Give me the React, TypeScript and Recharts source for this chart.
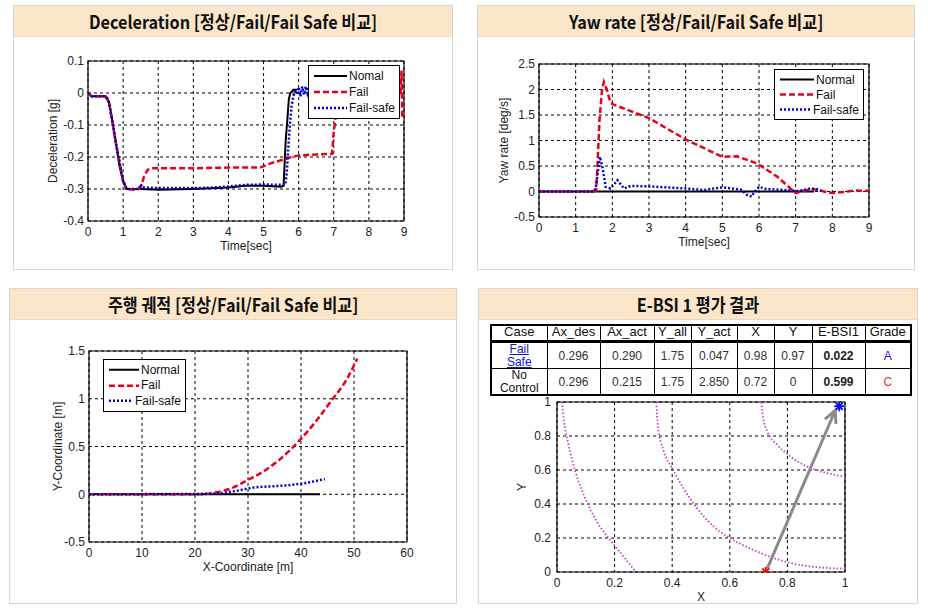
import React from 'react';
import { LineChart, Line, XAxis, YAxis, CartesianGrid, ReferenceArea, Legend } from 'recharts';

// ---- Deceleration [g] vs time [sec]
const decelNormal = [
  { x: 0, y: 0 }, { x: 0.1, y: -0.01 }, { x: 0.3, y: -0.01 }, { x: 0.5, y: -0.01 }, { x: 0.55, y: -0.015 },
  { x: 0.6, y: -0.03 }, { x: 0.7, y: -0.09 }, { x: 0.8, y: -0.16 }, { x: 0.9, y: -0.23 }, { x: 1.0, y: -0.275 },
  { x: 1.1, y: -0.3 }, { x: 1.5, y: -0.3 }, { x: 2, y: -0.302 }, { x: 3, y: -0.3 }, { x: 3.5, y: -0.298 },
  { x: 4, y: -0.295 }, { x: 4.5, y: -0.29 }, { x: 5, y: -0.29 }, { x: 5.5, y: -0.293 }, { x: 5.57, y: -0.29 },
  { x: 5.6, y: -0.22 }, { x: 5.63, y: -0.15 }, { x: 5.68, y: -0.08 }, { x: 5.72, y: -0.02 }, { x: 5.76, y: 0 },
  { x: 5.85, y: 0.01 }, { x: 5.95, y: 0.01 },
];
const decelFail = [
  { x: 0, y: 0 }, { x: 0.1, y: -0.01 }, { x: 0.5, y: -0.01 }, { x: 0.6, y: -0.03 }, { x: 0.8, y: -0.16 },
  { x: 1.0, y: -0.275 }, { x: 1.1, y: -0.3 }, { x: 1.4, y: -0.302 }, { x: 1.5, y: -0.295 }, { x: 1.6, y: -0.26 },
  { x: 1.7, y: -0.24 }, { x: 1.8, y: -0.235 }, { x: 2.5, y: -0.235 }, { x: 3, y: -0.235 }, { x: 4, y: -0.233 },
  { x: 4.9, y: -0.233 }, { x: 5.2, y: -0.22 }, { x: 5.5, y: -0.21 }, { x: 5.8, y: -0.2 }, { x: 6, y: -0.195 },
  { x: 6.5, y: -0.192 }, { x: 6.95, y: -0.19 }, { x: 7.0, y: -0.12 }, { x: 7.05, y: -0.08 }, { x: 7.2, y: -0.03 },
  { x: 7.5, y: 0 }, { x: 8.9, y: 0 }, { x: 8.93, y: 0.07 }, { x: 8.95, y: -0.075 },
];
const decelFailSafe = [
  { x: 0, y: 0 }, { x: 0.1, y: -0.01 }, { x: 0.5, y: -0.01 }, { x: 0.6, y: -0.03 }, { x: 0.8, y: -0.16 },
  { x: 1.0, y: -0.275 }, { x: 1.1, y: -0.3 }, { x: 1.45, y: -0.3 }, { x: 1.5, y: -0.285 }, { x: 1.55, y: -0.295 },
  { x: 2, y: -0.297 }, { x: 3, y: -0.297 }, { x: 3.5, y: -0.296 }, { x: 4, y: -0.292 }, { x: 4.5, y: -0.287 },
  { x: 5, y: -0.286 }, { x: 5.62, y: -0.287 }, { x: 5.66, y: -0.25 }, { x: 5.7, y: -0.18 }, { x: 5.75, y: -0.1 },
  { x: 5.8, y: -0.04 }, { x: 5.85, y: -0.01 }, { x: 5.9, y: 0.01 }, { x: 5.95, y: -0.005 }, { x: 6.0, y: 0.018 },
  { x: 6.05, y: -0.01 }, { x: 6.1, y: 0.02 }, { x: 6.15, y: -0.005 }, { x: 6.2, y: 0.02 }, { x: 6.25, y: 0 },
  { x: 6.3, y: 0.02 },
];
const decelTicksX = [0, 1, 2, 3, 4, 5, 6, 7, 8, 9];
const decelTicksY = [-0.4, -0.3, -0.2, -0.1, 0, 0.1];

// ---- Yaw rate [deg/s] vs time [sec]
const yawNormal = [{ x: 0, y: 0 }, { x: 7.5, y: 0 }];
const yawFail = [
  { x: 0, y: 0 }, { x: 1.5, y: 0 }, { x: 1.56, y: 0.02 }, { x: 1.6, y: 0.6 }, { x: 1.65, y: 1.4 },
  { x: 1.72, y: 2.0 }, { x: 1.77, y: 2.15 }, { x: 1.85, y: 2.0 }, { x: 1.95, y: 1.74 }, { x: 2.05, y: 1.7 },
  { x: 3, y: 1.44 }, { x: 4, y: 1.02 }, { x: 5, y: 0.68 }, { x: 5.4, y: 0.69 }, { x: 5.95, y: 0.55 },
  { x: 6.5, y: 0.29 }, { x: 7.0, y: -0.03 }, { x: 7.2, y: 0.01 }, { x: 7.4, y: 0.04 }, { x: 7.6, y: 0.04 },
  { x: 7.77, y: 0 }, { x: 8.0, y: -0.03 }, { x: 8.3, y: -0.01 }, { x: 8.6, y: 0.02 }, { x: 9, y: 0.01 },
];
const yawFailSafe = [
  { x: 0, y: 0 }, { x: 1.5, y: 0 }, { x: 1.55, y: 0.09 }, { x: 1.66, y: 0.68 }, { x: 1.73, y: 0.48 },
  { x: 1.82, y: 0.09 }, { x: 1.95, y: 0.06 }, { x: 2.14, y: 0.22 }, { x: 2.32, y: 0.06 }, { x: 2.5, y: 0.11 },
  { x: 3, y: 0.1 }, { x: 4, y: 0.06 }, { x: 4.5, y: 0.03 }, { x: 5, y: 0.08 }, { x: 5.5, y: 0.04 },
  { x: 5.68, y: -0.07 }, { x: 5.8, y: -0.1 }, { x: 5.86, y: -0.02 }, { x: 6, y: 0.09 }, { x: 6.2, y: 0.05 },
  { x: 6.7, y: 0.03 }, { x: 7.05, y: 0.01 }, { x: 7.23, y: 0.03 }, { x: 7.4, y: 0.06 }, { x: 7.55, y: 0.05 },
  { x: 7.7, y: 0.01 },
];
const yawTicksX = [0, 1, 2, 3, 4, 5, 6, 7, 8, 9];
const yawTicksY = [-0.5, 0, 0.5, 1, 1.5, 2, 2.5];

// ---- Driving trajectory, Y [m] vs X [m]
const trackNormal = [{ x: 0, y: 0 }, { x: 43.6, y: 0 }];
const trackFail = [
  { x: 0, y: 0 }, { x: 20.9, y: 0 }, { x: 24, y: 0.02 }, { x: 27.2, y: 0.07 }, { x: 30, y: 0.15 },
  { x: 33.5, y: 0.26 }, { x: 37.9, y: 0.46 }, { x: 40, y: 0.58 }, { x: 42.9, y: 0.77 }, { x: 46, y: 1.0 },
  { x: 48.6, y: 1.2 }, { x: 50.6, y: 1.42 },
];
const trackFailSafe = [
  { x: 0, y: 0 }, { x: 23.4, y: 0.005 }, { x: 27.2, y: 0.03 }, { x: 30, y: 0.06 }, { x: 31, y: 0.07 },
  { x: 36.6, y: 0.09 }, { x: 40, y: 0.11 }, { x: 44.5, y: 0.16 },
];
const trackTicksX = [0, 10, 20, 30, 40, 50, 60];
const trackTicksY = [-0.5, 0, 0.5, 1, 1.5];

// ---- E-BSI 1 evaluation
const bsiHeader = ['Case', 'Ax_des', 'Ax_act', 'Y_all', 'Y_act', 'X', 'Y', 'E-BSI1', 'Grade'];
const bsiCases = [['Fail', 'Safe'], ['No', 'Control']];
const bsiValues = [
  ['0.296', '0.290', '1.75', '0.047', '0.98', '0.97'],
  ['0.296', '0.215', '1.75', '2.850', '0.72', '0'],
];
const bsiScores = ['0.022', '0.599'];
const bsiGrades = ['A', 'C'];
const bsiCurve1 = [
  { x: 0.017, y: 1 }, { x: 0.023, y: 0.905 }, { x: 0.04, y: 0.75 }, { x: 0.064, y: 0.59 }, { x: 0.098, y: 0.433 },
  { x: 0.139, y: 0.295 }, { x: 0.185, y: 0.187 }, { x: 0.232, y: 0.089 }, { x: 0.272, y: 0.004 },
];
const bsiCurve2 = [
  { x: 0.345, y: 1 }, { x: 0.35, y: 0.866 }, { x: 0.371, y: 0.709 }, { x: 0.4, y: 0.61 }, { x: 0.44, y: 0.49 },
  { x: 0.487, y: 0.374 }, { x: 0.545, y: 0.266 }, { x: 0.603, y: 0.197 }, { x: 0.684, y: 0.128 },
  { x: 0.776, y: 0.069 }, { x: 0.892, y: 0.03 }, { x: 1, y: 0.02 },
];
const bsiCurve3 = [
  { x: 0.709, y: 1 }, { x: 0.716, y: 0.906 }, { x: 0.73, y: 0.827 }, { x: 0.765, y: 0.748 }, { x: 0.811, y: 0.679 },
  { x: 0.869, y: 0.62 }, { x: 0.939, y: 0.581 }, { x: 1, y: 0.561 },
];
const bsiNoControl = [{ x: 0.725, y: 0 }];
const bsiFailSafe = [{ x: 0.98, y: 0.975 }];
const bsiArrow = [{ x: 0.73, y: 0.02 }, { x: 0.966, y: 0.95 }];
const bsiTicks = [0, 0.2, 0.4, 0.6, 0.8, 1];

const FONT = '"Liberation Sans", Arial, sans-serif';
const NARROW = '"Liberation Sans Narrow", "Liberation Sans", sans-serif';
const TICK = { fontSize: 12, fill: '#222', fontFamily: FONT };

const STYLES = {
  normal: { stroke: '#000000', strokeWidth: 2, dash: undefined as string | undefined },
  fail: { stroke: '#e8001a', strokeWidth: 2.5, dash: '6 3' },
  safe: { stroke: '#0000c8', strokeWidth: 2.5, dash: '2 2' },
};

const LegendBox = ({ labels, row, sample }: { labels: string[]; row: number; sample: number }) => {
  const keys = ['normal', 'fail', 'safe'] as const;
  return (
    <div style={{ background: '#fff', border: '1px solid #000', padding: '2px 4px 2px 5px', fontFamily: FONT, fontSize: 12, color: '#111' }}>
      {labels.map((l, i) => {
        const s = STYLES[keys[i]];
        return (
          <div key={l} style={{ display: 'flex', alignItems: 'center', height: row }}>
            <svg width={sample} height={row} style={{ display: 'block' }}>
              <line x1={0} x2={sample} y1={row / 2} y2={row / 2} stroke={s.stroke} strokeWidth={s.strokeWidth} strokeDasharray={s.dash} />
            </svg>
            <span style={{ marginLeft: 2, whiteSpace: 'nowrap' }}>{l}</span>
          </div>
        );
      })}
    </div>
  );
};

const Panel = ({ left, top, width, height, title }: { left: number; top: number; width: number; height: number; title: string }) => (
  <div style={{ position: 'absolute', left, top, width, height, border: '1px solid #d6d6d6', boxSizing: 'border-box', background: '#fff' }}>
    <div style={{ height: 30, background: '#fbe6ca', borderBottom: '1px solid #e9dac6', display: 'flex', alignItems: 'center', justifyContent: 'center' }}>
      <span style={{ display: 'inline-block', fontFamily: '"Noto Sans CJK KR", sans-serif', fontWeight: 700, fontSize: 18, color: '#111', transform: 'scaleX(0.9)', whiteSpace: 'nowrap' }}>
        {title}
      </span>
    </div>
  </div>
);

type Pt = { x: number; y: number };

interface SeriesChartProps {
  left: number; top: number; width: number; height: number;
  margin: { top: number; right: number; bottom: number; left: number };
  yWidth: number;
  xDomain: [number, number]; yDomain: [number, number];
  xTicks: number[]; yTicks: number[];
  xLabel: string; yLabel: string;
  normal: Pt[]; fail: Pt[]; safe: Pt[];
  curve: 'linear' | 'monotone';
  legend: string[]; legendPos: { left: number; top: number; width: number }; row: number; sample: number;
}

const SeriesChart = (p: SeriesChartProps) => {
  const series: [Pt[], keyof typeof STYLES][] = [[p.normal, 'normal'], [p.fail, 'fail'], [p.safe, 'safe']];
  return (
    <div style={{ position: 'absolute', left: p.left, top: p.top }}>
      <LineChart width={p.width} height={p.height} margin={p.margin}>
        <CartesianGrid stroke="#000" strokeDasharray="3 3" />
        <XAxis type="number" dataKey="x" domain={p.xDomain} ticks={p.xTicks} interval={0} allowDataOverflow
          axisLine={false} tickLine={false} tickSize={4} tickMargin={2} tick={TICK} height={30}
          label={{ value: p.xLabel, position: 'insideBottom', offset: 1, style: { fontSize: 12, fontFamily: FONT, fill: '#222' } }} />
        <YAxis type="number" dataKey="y" domain={p.yDomain} ticks={p.yTicks} interval={0} allowDataOverflow
          axisLine={false} tickLine={false} tickSize={3} tickMargin={1} tick={TICK} width={p.yWidth}
          label={{ value: p.yLabel, angle: -90, position: 'insideLeft', offset: 0, style: { textAnchor: 'middle', fontSize: 12, fontFamily: FONT, fill: '#222' } }} />
        <ReferenceArea x1={p.xDomain[0]} x2={p.xDomain[1]} y1={p.yDomain[0]} y2={p.yDomain[1]} fill="none" stroke="#000" strokeWidth={1.2} />
        {series.map(([d, k]) => (
          <Line key={k} data={d} dataKey="y" type={p.curve} dot={false} isAnimationActive={false}
            stroke={STYLES[k].stroke} strokeWidth={STYLES[k].strokeWidth} strokeDasharray={STYLES[k].dash} />
        ))}
        <Legend verticalAlign="middle" align="center" layout="vertical"
          wrapperStyle={{ left: p.legendPos.left, top: p.legendPos.top, width: p.legendPos.width, height: 'auto' }}
          content={() => <LegendBox labels={p.legend} row={p.row} sample={p.sample} />} />
      </LineChart>
    </div>
  );
};

const Asterisk = (color: string) => (props: any) => {
  const { cx, cy, index } = props;
  if (cx == null || cy == null) return <g key={index} />;
  const r = 5;
  return (
    <g key={index} stroke={color} strokeWidth={1.8}>
      {[0, 45, 90, 135].map((a) => {
        const dx = r * Math.cos((a * Math.PI) / 180);
        const dy = r * Math.sin((a * Math.PI) / 180);
        return <line key={a} x1={cx - dx} y1={cy - dy} x2={cx + dx} y2={cy + dy} />;
      })}
    </g>
  );
};

const ArrowHead = (props: any) => {
  const { cx, cy, index, points } = props;
  if (index !== bsiArrow.length - 1 || cx == null) return <g key={index} />;
  const prev = points && points[index - 1];
  const ang = prev ? Math.atan2(cy - prev.y, cx - prev.x) : Math.atan2(-158, 68);
  const L = 12, w = 6;
  const bx = cx - L * Math.cos(ang), by = cy - L * Math.sin(ang);
  const px = -Math.sin(ang) * w, py = Math.cos(ang) * w;
  return (
    <polyline key={index} points={`${bx + px},${by + py} ${cx},${cy} ${bx - px},${by - py}`}
      fill="none" stroke="#8a8a8a" strokeWidth={3} strokeLinejoin="miter" />
  );
};

const colW = [56, 53, 54, 37, 46, 37, 38, 53, 46];

const BsiTable = () => {
  const head: React.CSSProperties = { fontFamily: NARROW, fontSize: 13, lineHeight: '12px', height: 14, padding: 0, textAlign: 'center', borderRight: '1px solid #000', borderBottom: '3px solid #000', color: '#111', fontWeight: 400, verticalAlign: 'top' };
  const cell: React.CSSProperties = { fontFamily: FONT, fontSize: 12, padding: 0, textAlign: 'center', borderRight: '1px solid #000', borderBottom: '1px solid #000', color: '#333', height: 24 };
  return (
    <table style={{ position: 'absolute', left: 490, top: 324, width: 420, borderCollapse: 'collapse', tableLayout: 'fixed', border: '2px solid #000' }}>
      <colgroup>{colW.map((w, i) => <col key={i} style={{ width: w }} />)}</colgroup>
      <thead>
        <tr>{bsiHeader.map((h) => <th key={h} style={head}>{h}</th>)}</tr>
      </thead>
      <tbody>
        {bsiCases.map((c, r) => (
          <tr key={r}>
            <td style={{ ...cell, fontFamily: NARROW, fontSize: 12, lineHeight: '12.5px', color: r === 0 ? '#1010e0' : '#111', textDecoration: r === 0 ? 'underline' : 'none' }}>
              {c[0]}<br />{c[1]}
            </td>
            {bsiValues[r].map((v, i) => <td key={i} style={cell}>{v}</td>)}
            <td style={{ ...cell, fontWeight: 700, color: '#222' }}>{bsiScores[r]}</td>
            <td style={{ ...cell, color: r === 0 ? '#2020e0' : '#e03030' }}>{bsiGrades[r]}</td>
          </tr>
        ))}
      </tbody>
    </table>
  );
};

const BsiChart = () => (
  <div style={{ position: 'absolute', left: 478, top: 392 }}>
    <LineChart width={440} height={211} margin={{ top: 10, right: 73, bottom: 1, left: 44 }}>
      <CartesianGrid stroke="#000" strokeDasharray="3 3" />
      <XAxis type="number" dataKey="x" domain={[0, 1]} ticks={bsiTicks} interval={0} allowDataOverflow
        axisLine={false} tickLine={false} tickSize={4} tickMargin={2} tick={TICK} height={30}
        label={{ value: 'X', position: 'insideBottom', offset: 1, style: { fontSize: 12, fontFamily: FONT, fill: '#222' } }} />
      <YAxis type="number" dataKey="y" domain={[0, 1]} ticks={bsiTicks} interval={0} allowDataOverflow
        axisLine={false} tickLine={false} tickSize={3} tickMargin={3} tick={TICK} width={35}
        label={{ value: 'Y', angle: -90, position: 'insideLeft', offset: 0, style: { textAnchor: 'middle', fontSize: 12, fontFamily: FONT, fill: '#222' } }} />
      <ReferenceArea x1={0} x2={1} y1={0} y2={1} fill="none" stroke="#000" strokeWidth={1.2} />
      {[bsiCurve1, bsiCurve2, bsiCurve3].map((d, i) => (
        <Line key={i} data={d} dataKey="y" type="monotone" dot={false} isAnimationActive={false}
          stroke="#c43fc4" strokeWidth={1.8} strokeDasharray="1.5 2" />
      ))}
      <Line data={bsiArrow} dataKey="y" type="linear" isAnimationActive={false} stroke="#8a8a8a" strokeWidth={3} dot={ArrowHead} />
      <Line data={bsiNoControl} dataKey="y" isAnimationActive={false} stroke="none" dot={Asterisk('#ff0000')} />
      <Line data={bsiFailSafe} dataKey="y" isAnimationActive={false} stroke="none" dot={Asterisk('#0000ff')} />
    </LineChart>
  </div>
);

export default function App() {
  return (
    <div style={{ position: 'absolute', left: 0, top: 0, width: 928, height: 611, background: '#fff', overflow: 'hidden' }}>
      <Panel left={13} top={5} width={440} height={265} title="Deceleration [정상/Fail/Fail Safe 비교]" />
      <Panel left={477} top={5} width={438} height={265} title="Yaw rate [정상/Fail/Fail Safe 비교]" />
      <Panel left={9} top={288} width={448} height={316} title="주행 궤적 [정상/Fail/Fail Safe 비교]" />
      <Panel left={478} top={288} width={440} height={316} title="E-BSI 1 평가 결과" />

      <SeriesChart left={13} top={36} width={440} height={233} margin={{ top: 25, right: 49, bottom: 18, left: 40 }} yWidth={35}
        xDomain={[0, 9]} yDomain={[-0.4, 0.1]} xTicks={decelTicksX} yTicks={decelTicksY}
        xLabel="Time[sec]" yLabel="Deceleration [g]" curve="linear"
        normal={decelNormal} fail={decelFail} safe={decelFailSafe}
        legend={['Nomal', 'Fail', 'Fail-safe']} legendPos={{ left: 295, top: 29, width: 92 }} row={16} sample={33} />

      <SeriesChart left={477} top={36} width={438} height={233} margin={{ top: 28, right: 46, bottom: 22, left: 27 }} yWidth={35}
        xDomain={[0, 9]} yDomain={[-0.5, 2.5]} xTicks={yawTicksX} yTicks={yawTicksY}
        xLabel="Time[sec]" yLabel="Yaw rate [deg/s]" curve="linear"
        normal={yawNormal} fail={yawFail} safe={yawFailSafe}
        legend={['Normal', 'Fail', 'Fail-safe']} legendPos={{ left: 297, top: 33, width: 90 }} row={15} sample={34} />

      <SeriesChart left={9} top={321} width={448} height={283} margin={{ top: 30, right: 50, bottom: 32, left: 49 }} yWidth={31}
        xDomain={[0, 60]} yDomain={[-0.5, 1.5]} xTicks={trackTicksX} yTicks={trackTicksY}
        xLabel="X-Coordinate [m]" yLabel="Y-Coordinate [m]" curve="monotone"
        normal={trackNormal} fail={trackFail} safe={trackFailSafe}
        legend={['Normal', 'Fail', 'Fail-safe']} legendPos={{ left: 94, top: 38, width: 83 }} row={15.5} sample={30} />

      <BsiTable />
      <BsiChart />
    </div>
  );
}
